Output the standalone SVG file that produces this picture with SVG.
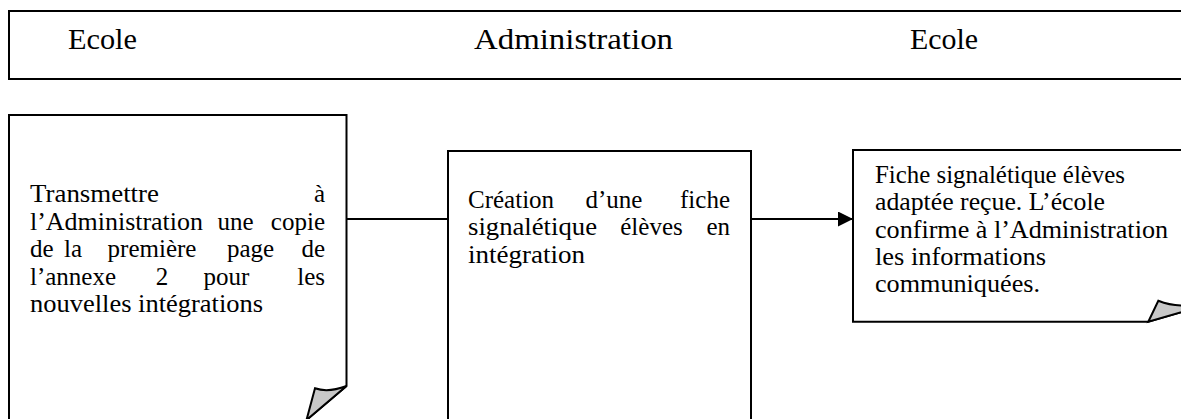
<svg xmlns="http://www.w3.org/2000/svg" width="1181" height="419" viewBox="0 0 1181 419">
  <style>
    .box { fill: #ffffff; stroke: #000000; stroke-width: 2; }
    .curl { fill: #c8c8c8; stroke: #000000; stroke-width: 2; stroke-linejoin: miter; }
    .edge { fill: none; stroke: #000000; stroke-width: 2; }
    .lane { font-family: "Liberation Serif", "Times New Roman", serif; font-size: 30px; fill: #000000; }
    .body { font-family: "Liberation Serif", "Times New Roman", serif; font-size: 25px; fill: #000000; }
    .mid { text-anchor: middle; }
    .end { text-anchor: end; }
  </style>
  <defs>
    <marker id="arrow" viewBox="0 0 15 15" refX="15" refY="7.5" markerWidth="15" markerHeight="15" markerUnits="userSpaceOnUse" orient="auto">
      <path d="M0,0 L15,7.5 L0,15 Z" fill="#000000"/>
    </marker>
  </defs>
  <rect width="1181" height="419" fill="#ffffff"/>

  <!-- swimlane header -->
  <g id="lanes">
    <rect class="box" x="9" y="11" width="1190" height="68"/>
    <text class="lane" x="68" y="49" textLength="69" lengthAdjust="spacingAndGlyphs">Ecole</text>
    <text class="lane" x="474" y="49" textLength="199" lengthAdjust="spacingAndGlyphs">Administration</text>
    <text class="lane" x="910" y="49" textLength="68" lengthAdjust="spacingAndGlyphs">Ecole</text>
  </g>

  <!-- connectors -->
  <g id="connectors">
    <line class="edge" x1="346.5" y1="219" x2="448" y2="219"/>
    <line class="edge" x1="751" y1="219" x2="853" y2="219" marker-end="url(#arrow)"/>
  </g>

  <!-- step 1: school sends copy -->
  <g id="step-transmit">
    <path class="box" d="M9,425 V115 H346.5 V386 L306.5,420 L306.5,425 Z"/>
    <path class="curl" d="M346.5,386 Q328,393 315,388.3 L306.5,420 Z"/>
    <text class="body" x="30" y="202" textLength="129" lengthAdjust="spacingAndGlyphs">Transmettre</text>
    <text class="body end" x="325" y="202">à</text>
    <text class="body" x="30" y="229.5" textLength="173" lengthAdjust="spacingAndGlyphs">l’Administration</text>
    <text class="body mid" x="235.5" y="229.5">une</text>
    <text class="body end" x="325" y="229.5">copie</text>
    <text class="body" x="30" y="257">de</text>
    <text class="body mid" x="73" y="257">la</text>
    <text class="body mid" x="152" y="257">première</text>
    <text class="body mid" x="250.5" y="257">page</text>
    <text class="body end" x="325" y="257">de</text>
    <text class="body" x="30" y="284.5">l’annexe</text>
    <text class="body mid" x="162" y="284.5">2</text>
    <text class="body mid" x="226.5" y="284.5">pour</text>
    <text class="body end" x="325" y="284.5">les</text>
    <text class="body" x="30" y="312" textLength="233" lengthAdjust="spacingAndGlyphs">nouvelles intégrations</text>
  </g>

  <!-- step 2: administration creates the record -->
  <g id="step-create">
    <rect class="box" x="448" y="151" width="303" height="280"/>
    <text class="body" x="468" y="207.5">Création</text>
    <text class="body mid" x="614" y="207.5">d’une</text>
    <text class="body end" x="730" y="207.5">fiche</text>
    <text class="body" x="468" y="235" textLength="129" lengthAdjust="spacingAndGlyphs">signalétique</text>
    <text class="body mid" x="651.5" y="235">élèves</text>
    <text class="body end" x="730" y="235">en</text>
    <text class="body" x="468" y="262.5" textLength="117" lengthAdjust="spacingAndGlyphs">intégration</text>
  </g>

  <!-- step 3: school confirms -->
  <g id="step-confirm">
    <path class="box" d="M853,150 H1200 V309 L1192,309 L1148.3,321.7 H853 Z"/>
    <path class="curl" d="M1148.3,321.7 L1158.3,300.7 Q1174,307 1192,305 L1192,309 Z"/>
    <text class="body" x="875" y="183" textLength="250" lengthAdjust="spacingAndGlyphs">Fiche signalétique élèves</text>
    <text class="body" x="875" y="210.3" textLength="230" lengthAdjust="spacingAndGlyphs">adaptée reçue. L’école</text>
    <text class="body" x="875" y="237.6" textLength="293" lengthAdjust="spacingAndGlyphs">confirme à l’Administration</text>
    <text class="body" x="875" y="264.9" textLength="171" lengthAdjust="spacingAndGlyphs">les informations</text>
    <text class="body" x="875" y="292.2" textLength="165" lengthAdjust="spacingAndGlyphs">communiquées.</text>
  </g>
</svg>
